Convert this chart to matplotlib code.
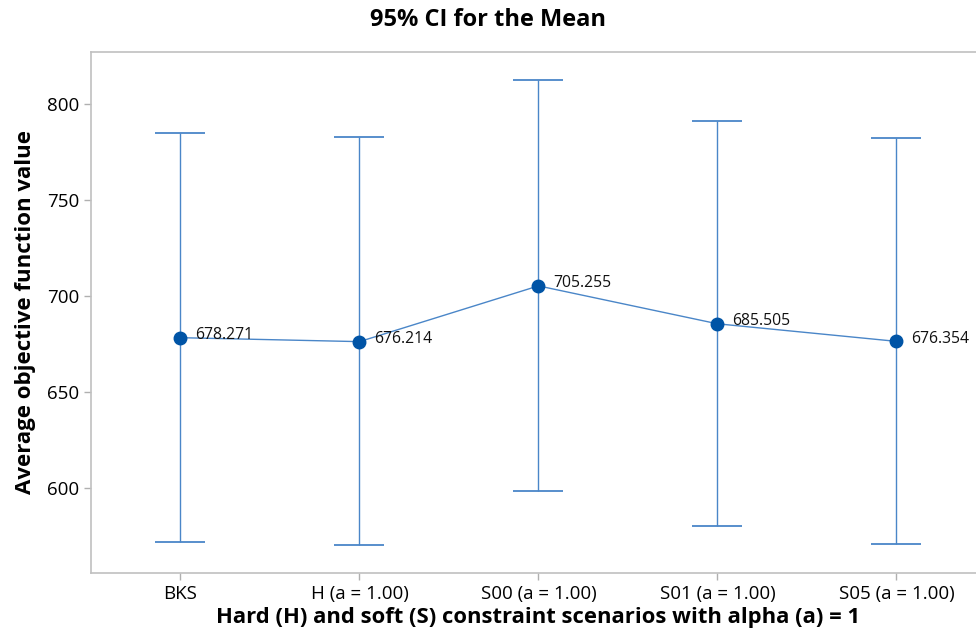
import matplotlib.pyplot as plt

# data
scenarios = ["BKS", "H (a = 1.00)", "S00 (a = 1.00)", "S01 (a = 1.00)", "S05 (a = 1.00)"]
means = [678.271, 676.214, 705.255, 685.505, 676.354]
ci_low = [571.9, 570.2, 598.3, 580.2, 570.7]
ci_high = [784.9, 782.8, 812.5, 791.3, 782.5]

plt.rcParams['font.family'] = ['Open Sans', 'DejaVu Sans']

fig = plt.figure(figsize=(9.76, 6.33), dpi=100)
ax = fig.add_axes([0.0932, 0.0948, 0.917, 0.8231])

x = list(range(len(scenarios)))
err_lo = [m - l for m, l in zip(means, ci_low)]
err_hi = [h - m for m, h in zip(means, ci_high)]

ax.errorbar(x, means, yerr=[err_lo, err_hi], fmt='none', ecolor='#4a86c8',
            elinewidth=1.0, capsize=18, capthick=1.3, zorder=2)
ax.plot(x, means, color='#4a86c8', lw=1.0, zorder=3)
ax.plot(x, means, 'o', color='#0054a6', ms=9, zorder=4)

for xi, m in zip(x, means):
    ax.annotate(f"{m:.3f}", (xi, m), xytext=(10.5, 2), textcoords='offset points',
                ha='left', va='center', fontsize=11.3, color='#111111')

ax.set_xlim(-0.5, 4.5)
ax.set_ylim(555.7, 827.1)
ax.set_yticks([600, 650, 700, 750, 800])
ax.set_xticks(x)
ax.set_xticklabels(scenarios)
ax.tick_params(axis='both', colors='#b0b0b0', labelcolor='black', labelsize=13.5,
               length=5, width=1)

for s in ax.spines.values():
    s.set_color('#c0c0c0')
    s.set_linewidth(1.2)

ax.set_xlabel("Hard (H) and soft (S) constraint scenarios with alpha (a) = 1",
              fontsize=15.8, fontweight='bold', labelpad=3)
ax.set_ylabel("Average objective function value", fontsize=16,
              fontweight='bold', labelpad=8)
fig.text(0.5, 0.968, "95% CI for the Mean", ha='center', va='center',
         fontsize=17, fontweight='bold')

fig.savefig("out.png", dpi=100)
